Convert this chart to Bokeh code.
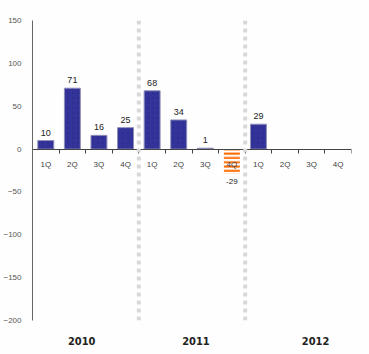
from bokeh.plotting import figure
from bokeh.models import ColumnDataSource, FixedTicker, LinearAxis, Span, Range1d
from bokeh.core.properties import value
from bokeh.embed import file_html
from bokeh.resources import INLINE

quarters = ["1Q", "2Q", "3Q", "4Q"] * 3
years = ["2010", "2011", "2012"]
values = [10, 71, 16, 25, 68, 34, 1, -29, 29, None, None, None]
y_ticks = [-200, -150, -100, -50, 0, 50, 100, 150]

n = len(quarters)
xs = [i + 0.5 for i in range(n)]
idx = [i for i, v in enumerate(values) if v is not None]
bx = [xs[i] for i in idx]
bv = [values[i] for i in idx]
pos = [v >= 0 for v in bv]

p = figure(width=369, height=354, output_backend="svg", toolbar_location=None,
           x_range=Range1d(0, n), y_range=Range1d(-200, 150),
           min_border_left=32, min_border_right=18, min_border_top=20, min_border_bottom=34,
           x_axis_type=None, y_axis_type=None)
p.outline_line_color = None
p.background_fill_color = "#fefefe"
p.border_fill_color = "#fefefe"

# y axis
ya = LinearAxis(ticker=FixedTicker(ticks=y_ticks, minor_ticks=[]))
ya.axis_line_color = "#666666"
ya.axis_line_width = 1
ya.major_tick_line_color = None
ya.major_label_text_font = "Liberation Sans"
ya.major_label_text_font_size = "8px"
ya.major_label_text_color = "#555555"
ya.major_label_standoff = 5
p.add_layout(ya, "left")
p.ygrid.ticker = FixedTicker(ticks=y_ticks)
p.ygrid.grid_line_color = "#bdbdbd"
p.ygrid.grid_line_dash = "3 1"
p.xgrid.grid_line_color = None

# year separators
for k in (4, 8):
    p.add_layout(Span(location=k, dimension="height", line_color="#d8d8d8",
                      line_width=4, line_dash="4 4"))

# bars
pos_src = ColumnDataSource(dict(x=[x for x, s in zip(bx, pos) if s], top=[v for v, s in zip(bv, pos) if s]))
neg_src = ColumnDataSource(dict(x=[x for x, s in zip(bx, pos) if not s], top=[v for v, s in zip(bv, pos) if not s]))
p.vbar(x="x", top="top", bottom=0, width=0.6, source=pos_src, fill_color="#333399",
       line_color="#9090bb", line_width=1, hatch_pattern="dot", hatch_color="#2a2a8a",
       hatch_alpha=0.6, hatch_scale=5, hatch_weight=1)
p.vbar(x="x", top="top", bottom=0, width=0.6, source=neg_src, fill_color="white",
       line_color=None, hatch_pattern="horizontal_line", hatch_color="#ff6a00",
       hatch_scale=4.3, hatch_weight=2)

# value labels
lab_pos = ColumnDataSource(dict(x=pos_src.data["x"], y=pos_src.data["top"], t=[str(v) for v in pos_src.data["top"]]))
lab_neg = ColumnDataSource(dict(x=neg_src.data["x"], y=neg_src.data["top"], t=[str(v) for v in neg_src.data["top"]]))
p.text(x="x", y="y", text="t", source=lab_pos, text_align="center", text_baseline="bottom",
       y_offset=-5, text_font=value("Liberation Sans"), text_font_size="9px", text_color="#222222")
p.text(x="x", y="y", text="t", source=lab_neg, text_align="center", text_baseline="top",
       y_offset=5, text_font=value("Liberation Sans"), text_font_size="8px", text_color="#222222")

# category axis at zero
xa = LinearAxis(ticker=FixedTicker(ticks=xs, minor_ticks=list(range(n + 1))), fixed_location=0)
xa.major_label_overrides = {x: q for x, q in zip(xs, quarters)}
xa.axis_line_color = "#444444"
xa.axis_line_width = 1
xa.major_tick_line_color = None
xa.minor_tick_line_color = "#444444"
xa.minor_tick_out = 4
xa.minor_tick_in = 0
xa.major_label_text_font = "Liberation Sans"
xa.major_label_text_font_size = "8px"
xa.major_label_text_color = "#444444"
xa.major_label_standoff = 5
p.add_layout(xa, "below")

# year axis
yr_ticks = [1.85, 6.15, 10.65]
ya2 = LinearAxis(ticker=FixedTicker(ticks=yr_ticks, minor_ticks=[]))
ya2.major_label_overrides = {t: y for t, y in zip(yr_ticks, years)}
ya2.axis_line_color = None
ya2.major_tick_line_color = None
ya2.major_label_text_font = "DejaVu Sans Condensed"
ya2.major_label_text_font_style = "bold"
ya2.major_label_text_font_size = "11px"
ya2.major_label_text_color = "#222222"
ya2.major_label_standoff = 10
p.add_layout(ya2, "below")

open("out.html", "w").write(file_html(p, INLINE))
